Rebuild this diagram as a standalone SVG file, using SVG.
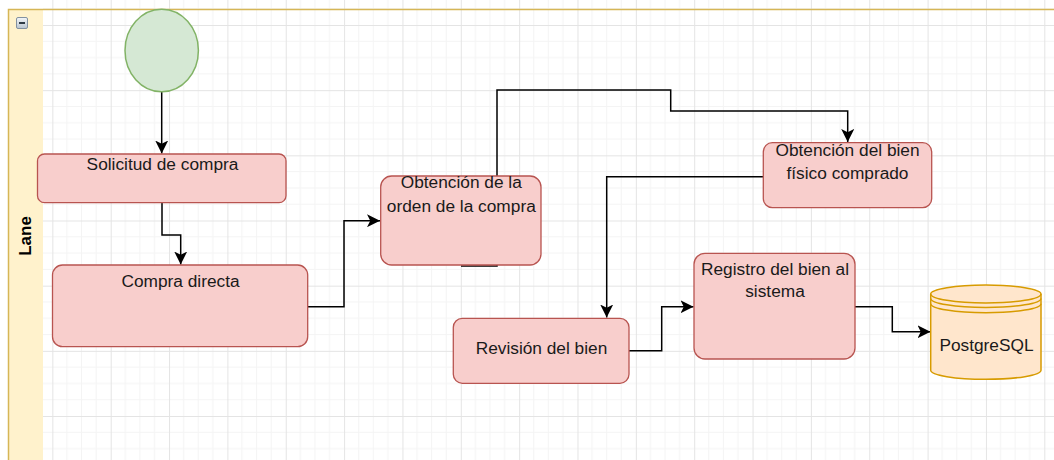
<svg xmlns="http://www.w3.org/2000/svg" width="1054" height="460" viewBox="0 0 1054 460">
<defs>
<pattern id="grid" patternUnits="userSpaceOnUse" x="52.35" y="25" width="58.35" height="65.17">
<path d="M14.59 0V65.17M29.18 0V65.17M43.76 0V65.17M0 16.29H58.35M0 32.59H58.35M0 48.88H58.35" stroke="#f4f4f4" stroke-width="1" fill="none"/>
<path d="M0.5 0V65.17M0 0.5H58.35" stroke="#e4e4e4" stroke-width="1" fill="none"/>
</pattern>
<linearGradient id="btn" x1="0" y1="0" x2="0" y2="1">
<stop offset="0" stop-color="#f4f6f8"/>
<stop offset="1" stop-color="#b9c4cf"/>
</linearGradient>
<marker id="arr" markerUnits="userSpaceOnUse" markerWidth="13" markerHeight="13" viewBox="0 0 12 12" refX="12" refY="6" orient="auto">
<path d="M0,0 L12,6 L0,12 L3,6 Z" fill="#000"/>
</marker>
</defs>
<style>
.edge{fill:none;stroke:#000;stroke-width:1.5;marker-end:url(#arr)}
.plain{fill:none;stroke:#000;stroke-width:1.5}
.task{fill:#f8cecc;stroke:#b85450;stroke-width:1.3}
.lbl{font-family:"Liberation Sans",Arial,sans-serif;font-size:17.3px;fill:#1a1a1a;text-anchor:middle}
</style>
<rect x="0" y="0" width="1054" height="460" fill="#ffffff"/>
<rect x="43" y="0" width="1011" height="460" fill="url(#grid)"/>
<g id="pool">
<rect x="8" y="9" width="35" height="460" fill="#fff2cc"/>
<path d="M8.5 470V9.5H1060" fill="none" stroke="#d6b656" stroke-width="1.5"/>
<rect x="16.5" y="17.5" width="11" height="11" rx="1.5" fill="url(#btn)" stroke="#8391a0" stroke-width="1"/>
<path d="M19 23H25" stroke="#2f3a44" stroke-width="2"/>
<text transform="translate(31,236) rotate(-90)" font-family="'Liberation Sans',Arial,sans-serif" font-size="17" font-weight="bold" fill="#000" text-anchor="middle">Lane</text>
</g>
<g id="connectors">
<path class="edge" d="M161.7 92V153.5"/>
<path class="edge" d="M162 203V235H180.7V264.5"/>
<path class="edge" d="M307.7 306.7H344V220.7H380"/>
<path class="edge" d="M461 266H497V90H670.7V111H847.7V142"/>
<path class="edge" d="M763 176.7H606.7V317.5"/>
<path class="edge" d="M629 350.7H661.7V306.7H693.5"/>
<path class="edge" d="M855 306.7H892.3V331.7H930.5"/>
</g>
<g id="start">
<ellipse cx="161.7" cy="50.5" rx="36.7" ry="41.2" fill="#d5e8d4" stroke="#82b366" stroke-width="1.5"/>
</g>
<g id="solicitud">
<rect class="task" x="37.5" y="154" width="248.5" height="48.7" rx="7" ry="7"/>
<text class="lbl" x="162.5" y="170">Solicitud de compra</text>
</g>
<g id="compra-directa">
<rect class="task" x="52.5" y="265" width="255.2" height="81.7" rx="10" ry="10"/>
<text class="lbl" x="180.5" y="286.7">Compra directa</text>
</g>
<g id="orden-compra">
<rect class="task" x="380.7" y="176" width="160.3" height="89" rx="11" ry="11"/>
<text class="lbl" x="461.3" y="188.3">Obtención de la</text>
<text class="lbl" x="461.3" y="211.7">orden de la compra</text>
</g>
<g id="obtencion-bien">
<rect class="task" x="763.3" y="142.7" width="168.4" height="65" rx="9" ry="9"/>
<text class="lbl" x="847.5" y="156">Obtención del bien</text>
<text class="lbl" x="847.5" y="179.3">físico comprado</text>
</g>
<g id="revision">
<rect class="task" x="453.3" y="318.3" width="175.7" height="65" rx="9" ry="9"/>
<text class="lbl" x="541.5" y="354.3">Revisión del bien</text>
</g>
<g id="registro">
<rect class="task" x="694" y="253.3" width="161" height="105.7" rx="11" ry="11"/>
<text class="lbl" x="775" y="275">Registro del bien al</text>
<text class="lbl" x="775" y="297.3">sistema</text>
</g>
<g id="postgresql">
<path d="M930.7 294A55.15 9 0 0 1 1041 294V370.3A55.15 9 0 0 1 930.7 370.3Z" fill="#ffe6cc" stroke="#d79b00" stroke-width="1.5"/>
<path d="M930.7 294A55.15 9 0 0 0 1041 294M930.7 298.5A55.15 9 0 0 0 1041 298.5M930.7 303.7A55.15 9 0 0 0 1041 303.7" fill="none" stroke="#d79b00" stroke-width="1.5"/>
<text class="lbl" x="986.5" y="350.7">PostgreSQL</text>
</g>
</svg>
